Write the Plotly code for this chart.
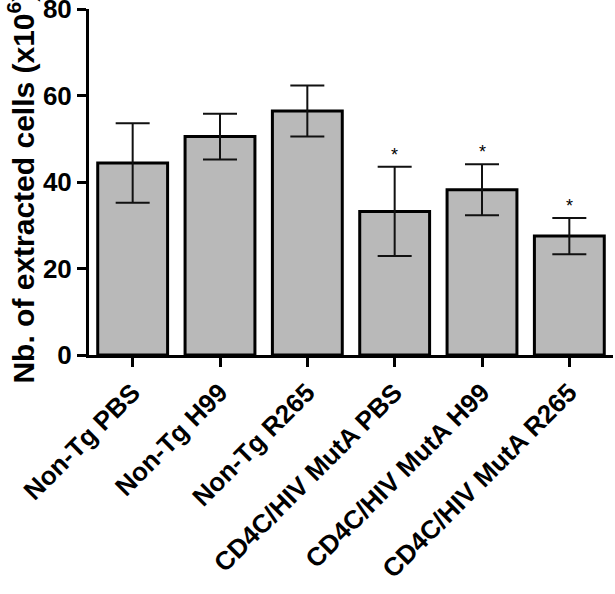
import plotly.graph_objects as go

categories = ["Non-Tg PBS", "Non-Tg H99", "Non-Tg R265",
              "CD4C/HIV MutA PBS", "CD4C/HIV MutA H99", "CD4C/HIV MutA R265"]
means = [44.4, 50.5, 56.4, 33.2, 38.2, 27.5]
errors = [9.2, 5.3, 5.9, 10.3, 5.9, 4.2]
significant = [False, False, False, True, True, True]
y_ticks = [0, 20, 40, 60, 80]

FONT = "Arial, Liberation Sans, sans-serif"

fig = go.Figure()
fig.add_trace(go.Bar(
    x=categories, y=means,
    marker=dict(color="#b9b9b9", line=dict(color="black", width=3)),
    width=0.8,
    error_y=dict(type="data", array=errors, visible=True,
                 color="#111111", thickness=2, width=17),
    showlegend=False,
))

for cat, m, e, s in zip(categories, means, errors, significant):
    if s:
        fig.add_annotation(x=cat, y=m + e, text="*", showarrow=False,
                           yanchor="middle", yshift=12,
                           font=dict(family=FONT, size=18, color="black"))

fig.add_annotation(
    text="Nb. of extracted cells (x10<sup>6</sup>)",
    xref="paper", yref="paper", x=-0.129, y=0.485,
    textangle=-90, showarrow=False, xanchor="center", yanchor="middle",
    font=dict(family=FONT, size=30, color="black", weight="bold"),
)

fig.update_layout(
    width=615, height=594,
    margin=dict(l=89, r=2, t=9, b=239),
    plot_bgcolor="white", paper_bgcolor="white",
    bargap=0.2,
)
fig.update_xaxes(
    type="category", range=[-0.5, 5.5], automargin=False,
    showline=True, linecolor="black", linewidth=3,
    ticks="outside", ticklen=9, tickwidth=2.5, tickcolor="black",
    tickangle=-45,
    tickfont=dict(family=FONT, size=26, color="black", weight="bold"),
    showgrid=False, zeroline=False,
)
fig.update_yaxes(
    range=[0, 80], tickvals=y_ticks, automargin=False,
    showline=True, linecolor="black", linewidth=3,
    ticks="outside", ticklen=9, tickwidth=3, tickcolor="black",
    ticklabeloverflow="allow",
    tickfont=dict(family=FONT, size=26, color="black", weight="bold"),
    showgrid=False, zeroline=False,
)

fig.write_html("out.html")
